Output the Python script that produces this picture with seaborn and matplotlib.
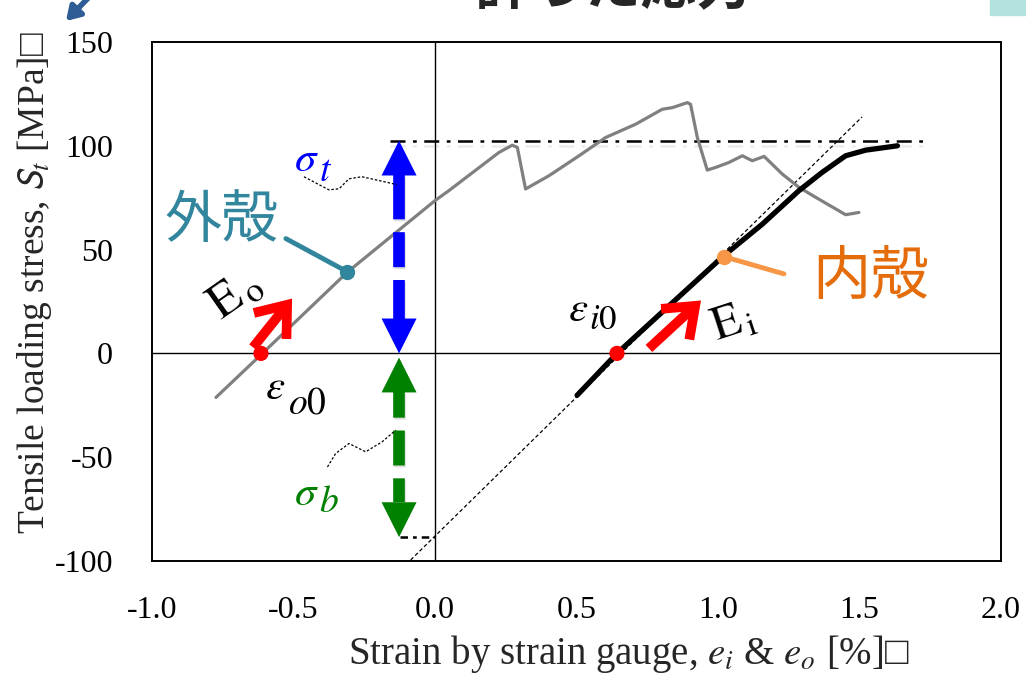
import numpy as np
import pandas as pd
import matplotlib
matplotlib.use("Agg")
import matplotlib.pyplot as plt
import matplotlib.patheffects as pe
from matplotlib.patches import Rectangle
import seaborn as sns

# ---------------- data ----------------
outer_strain = [-0.774, -0.610, -0.310, -0.116, 0.000, 0.049, 0.226, 0.273, 0.291,
                0.320, 0.403, 0.509, 0.603, 0.709, 0.803, 0.839, 0.892, 0.903, 0.927,
                0.962, 0.992, 1.039, 1.086, 1.121, 1.163, 1.227, 1.286, 1.345, 1.451, 1.498]
outer_stress = [-21.2, 0.0, 39.1, 60.7, 73.6, 78.4, 96.8, 100.3, 99.2,
                79.2, 85.6, 95.2, 104.0, 110.4, 117.6, 118.4, 120.8, 120.0, 104.0,
                88.3, 89.6, 92.0, 95.2, 92.8, 94.9, 86.4, 80.0, 75.2, 66.8, 67.9]

inner_strain = [0.502, 0.643, 1.021, 1.157, 1.286, 1.368, 1.451, 1.522, 1.634]
inner_stress = [-20.2, 0.0, 47.1, 62.3, 78.4, 87.2, 95.2, 97.9, 100.0]

tangent_strain = [-0.086, 1.509]
tangent_stress = [-99.5, 113.9]

sigma_t = 102.5
sigma_b = -88.5
sigma_t_span = [-0.16, 1.74]
sigma_b_span = [-0.125, 0.0]
arrow_strain = -0.127

eps_o0 = -0.615
eps_i0 = 0.643
outer_mark = (-0.311, 39.4)
inner_mark = (1.021, 46.6)

xticks = [-1.0, -0.5, 0.0, 0.5, 1.0, 1.5, 2.0]
xtick_labels = ["-1.0", "-0.5", "0.0", "0.5", "1.0", "1.5", "2.0"]
yticks = [-100, -50, 0, 50, 100, 150]
ytick_labels = ["-100", "-50", "0", "50", "100", "150"]

# ---------------- style ----------------
sns.set_theme(style="white")
plt.rcParams["font.family"] = ["Liberation Serif", "DejaVu Sans"]
plt.rcParams["mathtext.fontset"] = "stix"
plt.rcParams["axes.unicode_minus"] = False

W, H = 1026, 676
fig = plt.figure(figsize=(W / 100, H / 100), dpi=100)
ax = fig.add_axes([152 / W, 1 - 561 / H, (1001 - 152) / W, (561 - 42) / H])
ax.set_xlim(-1.0, 2.0)
ax.set_ylim(-100, 150)

BLUE = "#0000FF"
GREEN = "#008000"
TEAL = "#31859C"
ORANGE_T = "#E46C0A"
ORANGE_D = "#F79646"

# zero lines
ax.axhline(0, color="black", lw=1.0, zorder=1)
ax.axvline(0, color="black", lw=1.0, zorder=1)

# tangent line
ax.plot(tangent_strain, tangent_stress, color="black", lw=0.9, ls=(0, (3, 2)), zorder=2)

# curves
df_o = pd.DataFrame({"strain": outer_strain, "stress": outer_stress})
df_i = pd.DataFrame({"strain": inner_strain, "stress": inner_stress})
sns.lineplot(data=df_o, x="strain", y="stress", sort=False, estimator=None,
             color="#808080", lw=2.3, ax=ax, zorder=3)
sns.lineplot(data=df_i, x="strain", y="stress", sort=False, estimator=None,
             color="black", lw=3.8, ax=ax, zorder=4, solid_capstyle="round")

# dash-dot reference lines
shadow = [pe.SimpleLineShadow(offset=(0, -4), alpha=0.15, shadow_color="gray"), pe.Normal()]
ax.plot(sigma_t_span, [sigma_t, sigma_t], color="black", lw=1.8,
        ls=(0, (6, 3, 1.5, 3)), zorder=2, path_effects=shadow)
ax.plot(sigma_b_span, [sigma_b, sigma_b], color="black", lw=1.8,
        ls=(0, (3, 2, 1.5, 2)), zorder=2)

# double arrows (heads as triangles, dashed shafts)
hw = 17.5 / 283.0   # half head width (strain units)
hl = 16.8           # head length (MPa)


def head(x, tip, direction, color):
    base = tip - direction * hl
    ax.fill([x - hw, x + hw, x], [base, base, tip], color=color, lw=0, zorder=6)
    return base


def double_arrow(x, top, bottom, color, dashes):
    b1 = head(x, top, 1, color)
    b2 = head(x, bottom, -1, color)
    ax.plot([x, x], [b1, b2], color=color, lw=8.4, ls=dashes,
            solid_capstyle="butt", dash_capstyle="butt", zorder=5,
            path_effects=[pe.SimpleLineShadow(offset=(1, -1), alpha=0.25, shadow_color="gray"),
                          pe.Normal()])


double_arrow(arrow_strain, sigma_t, 0.0, BLUE, (0, (3.8, 1.1, 3.0, 1.1)))
double_arrow(arrow_strain, -2.0, sigma_b, GREEN, (0, (2.2, 1.1, 3.0, 1.1)))

# intercept dots
sns.scatterplot(x=[eps_o0, eps_i0], y=[0, 0], color="red", s=120, edgecolor="none",
                ax=ax, zorder=8)
# shell marker dots
ax.plot([outer_mark[0], -0.527], [outer_mark[1], 55.3], color=TEAL, lw=3.5, zorder=7)
ax.plot(*outer_mark, "o", color=TEAL, ms=10, zorder=8)
ax.plot([inner_mark[0], 1.233], [inner_mark[1], 38.3], color=ORANGE_D, lw=3.5, zorder=7)
ax.plot(*inner_mark, "o", color=ORANGE_D, ms=10, zorder=8)

# red modulus arrows
for tail, tip in [((-0.643, 2.9), (-0.505, 26.4)), ((0.756, 2.4), (0.940, 25.5))]:
    ax.annotate("", xy=tip, xytext=tail,
                arrowprops=dict(arrowstyle="->,head_length=0.65,head_width=0.5",
                                color="red", lw=7, mutation_scale=30,
                                shrinkA=0, shrinkB=0, joinstyle="miter", capstyle="butt"),
                zorder=9)

# wavy leaders
ax.plot([-0.463, -0.375, -0.339, -0.304, -0.258, -0.134],
        [85.1, 78.8, 79.3, 84.1, 85.1, 81.3], color="black", lw=0.9, ls=(0, (2, 1.5)), zorder=5)
ax.plot([-0.380, -0.351, -0.304, -0.245, -0.187, -0.139],
        [-54.7, -48.2, -43.4, -47.4, -42.6, -37.0], color="black", lw=0.9, ls=(0, (2, 1.5)), zorder=5)


def sym_sub(x, y, main, sub, color, size=31, subsize=27, dx=0, dy=0):
    ax.text(x, y, main, color=color, fontsize=size, ha="center", va="center")
    ax.annotate(sub, xy=(x, y), xytext=(dx, dy), textcoords="offset points",
                color=color, fontsize=subsize, ha="left", va="center")


# labels inside
cjk = ["Noto Sans CJK JP", "DejaVu Sans"]
ax.text(-0.756, 64.0, "外殻", color=TEAL, fontsize=41, family=cjk, ha="center", va="center")
ax.text(1.541, 36.5, "内殻", color=ORANGE_T, fontsize=42, family=cjk, ha="center", va="center")
sym_sub(-0.454, 93.0, r"$\sigma$", r"$t$", BLUE, dx=9, dy=-8)
sym_sub(-0.454, -68.0, r"$\sigma$", r"$b$", GREEN, dx=9, dy=-6)
sym_sub(-0.565, -17.0, r"$\varepsilon$", r"$o0$", "black", dx=9, dy=-11)
sym_sub(0.505, 20.5, r"$\varepsilon$", r"$i0$", "black", subsize=25, dx=8, dy=-7)
ax.text(-0.706, 28.5, r"$\mathrm{E}_{\,\mathrm{o}}$", color="black", fontsize=36,
        rotation=35, ha="center", va="center", rotation_mode="anchor")
ax.text(1.055, 14.5, r"$\mathrm{E}_{\,\mathrm{i}}$", color="black", fontsize=34,
        rotation=18, ha="center", va="center", rotation_mode="anchor")

# axes styling
ax.set_xticks(xticks)
ax.set_xticklabels(xtick_labels)
ax.set_yticks(yticks)
ax.set_yticklabels(ytick_labels)
ax.tick_params(axis="both", direction="in", length=7, width=1.2, labelsize=23,
               colors="black", top=False, right=False)
ax.tick_params(axis="x", pad=25)
ax.tick_params(axis="y", pad=28)
for s in ax.spines.values():
    s.set_color("black")
    s.set_linewidth(1.4)
ax.set_xlabel("")
ax.set_ylabel("")

fig.text(629 / W, 1 - 654 / H, "Strain by strain gauge, $e_i$ & $e_o$ [%]□",
         fontsize=28, ha="center", va="center")
fig.text(35 / W, 1 - 283 / H, r"Tensile loading stress, $\mathsf{S}_t$ [MPa]□",
         fontsize=27, rotation=90, ha="center", va="center")

# cropped title and slide fragments
fig.text(613 / W, 1 - 4 / H, "計った応力", fontsize=40, weight="bold",
         family=["Noto Sans CJK JP", "DejaVu Sans"], ha="center", va="baseline")
fig.patches.append(Rectangle((990 / W, 1 - 15 / H), 40 / W, 20 / H,
                             transform=fig.transFigure, color="#B2E4DD", zorder=0))
fig.add_artist(matplotlib.patches.FancyArrowPatch(
    (92 / W, 1 + 6 / H), (64 / W, 1 - 23 / H), transform=fig.transFigure,
    arrowstyle="-|>,head_length=8,head_width=5", color="#2E5C94", lw=4))

fig.savefig("out.png", dpi=100)
